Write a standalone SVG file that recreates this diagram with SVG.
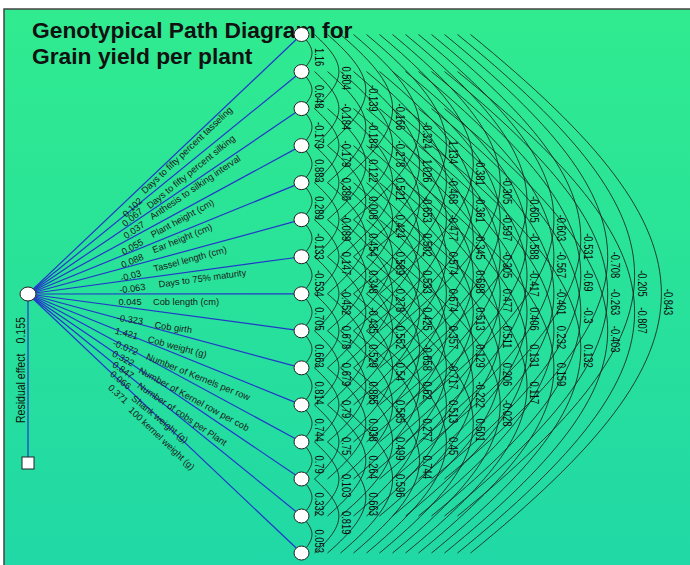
<svg xmlns="http://www.w3.org/2000/svg" width="690" height="565" viewBox="0 0 690 565">
<defs>
<linearGradient id="bg" x1="0" y1="0" x2="0" y2="1"><stop offset="0" stop-color="#30eb8f"/><stop offset="1" stop-color="#20d8a6"/></linearGradient>
<path id="a1" d="M301.5,0 C315.5,14.82 315.5,22.22 301.5,37.04"/>
<path id="a2" d="M314.5,0 C347.03,29.63 347.03,44.45 314.5,74.08"/>
<path id="a3" d="M327.5,0 C378.57,44.45 378.57,66.67 327.5,111.12"/>
<path id="a4" d="M340.5,0 C409.97,59.26 409.97,88.9 340.5,148.16"/>
<path id="a5" d="M353.5,0 C441.5,74.08 441.5,111.12 353.5,185.2"/>
<path id="a6" d="M366.5,0 C473.03,88.9 473.03,133.34 366.5,222.24"/>
<path id="a7" d="M379.5,0 C504.57,103.71 504.57,155.57 379.5,259.28"/>
<path id="a8" d="M392.5,0 C536.1,118.53 536.1,177.79 392.5,296.32"/>
<path id="a9" d="M405.5,0 C567.5,133.34 567.5,200.02 405.5,333.36"/>
<path id="a10" d="M418.5,0 C599.03,148.16 599.03,222.24 418.5,370.4"/>
<path id="a11" d="M431.5,0 C630.57,162.98 630.57,244.46 431.5,407.44"/>
<path id="a12" d="M444.5,0 C662.1,177.79 662.1,266.69 444.5,444.48"/>
<path id="a13" d="M457.5,0 C693.63,192.61 693.63,288.91 457.5,481.52"/>
<path id="a14" d="M470.5,0 C725.03,207.42 725.03,311.14 470.5,518.56"/>
</defs>
<style>
.arc{fill:none;stroke:#151515;stroke-width:0.8}
.pth line{stroke:#2338c8;stroke-width:1.2}
.node{fill:#fff;stroke:#222;stroke-width:1}
.cv text{font-family:"Liberation Sans",Arial,sans-serif;font-size:12px;fill:#0d0d0d}
.pl text{font-family:"Liberation Sans",Arial,sans-serif;font-size:9.3px;fill:#1a1a1a;text-anchor:middle}
.title{font-family:"Liberation Sans",Arial,sans-serif;font-size:22.8px;font-weight:bold;fill:#111}
.res{font-family:"Liberation Sans",Arial,sans-serif;font-size:13.5px;fill:#111}
</style>
<rect x="0" y="0" width="690" height="565" fill="#fff"/>
<rect x="4" y="9" width="700" height="570" fill="url(#bg)" stroke="#444" stroke-width="1.5"/>
<text class="title" x="32" y="37.5">Genotypical Path Diagram for</text>
<text class="title" x="32" y="63.5">Grain yield per plant</text>

<g id="connectors">
<g class="pth">
<line x1="28" y1="294" x2="301.5" y2="34.5"/>
<line x1="28" y1="294" x2="301.5" y2="71.54"/>
<line x1="28" y1="294" x2="301.5" y2="108.58"/>
<line x1="28" y1="294" x2="301.5" y2="145.62"/>
<line x1="28" y1="294" x2="301.5" y2="182.66"/>
<line x1="28" y1="294" x2="301.5" y2="219.7"/>
<line x1="28" y1="294" x2="301.5" y2="256.74"/>
<line x1="28" y1="294" x2="301.5" y2="293.78"/>
<line x1="28" y1="294" x2="301.5" y2="330.82"/>
<line x1="28" y1="294" x2="301.5" y2="367.86"/>
<line x1="28" y1="294" x2="301.5" y2="404.9"/>
<line x1="28" y1="294" x2="301.5" y2="441.94"/>
<line x1="28" y1="294" x2="301.5" y2="478.98"/>
<line x1="28" y1="294" x2="301.5" y2="516.02"/>
<line x1="28" y1="294" x2="301.5" y2="553.06"/>
<line x1="28" y1="294" x2="28" y2="457"/>
</g>
<g class="arc">
<use href="#a1" y="34.5"/><use href="#a1" y="71.54"/><use href="#a1" y="108.58"/><use href="#a1" y="145.62"/><use href="#a1" y="182.66"/><use href="#a1" y="219.7"/><use href="#a1" y="256.74"/><use href="#a1" y="293.78"/><use href="#a1" y="330.82"/><use href="#a1" y="367.86"/><use href="#a1" y="404.9"/><use href="#a1" y="441.94"/><use href="#a1" y="478.98"/><use href="#a1" y="516.02"/>
<use href="#a2" y="34.5"/><use href="#a2" y="71.54"/><use href="#a2" y="108.58"/><use href="#a2" y="145.62"/><use href="#a2" y="182.66"/><use href="#a2" y="219.7"/><use href="#a2" y="256.74"/><use href="#a2" y="293.78"/><use href="#a2" y="330.82"/><use href="#a2" y="367.86"/><use href="#a2" y="404.9"/><use href="#a2" y="441.94"/><use href="#a2" y="478.98"/>
<use href="#a3" y="34.5"/><use href="#a3" y="71.54"/><use href="#a3" y="108.58"/><use href="#a3" y="145.62"/><use href="#a3" y="182.66"/><use href="#a3" y="219.7"/><use href="#a3" y="256.74"/><use href="#a3" y="293.78"/><use href="#a3" y="330.82"/><use href="#a3" y="367.86"/><use href="#a3" y="404.9"/><use href="#a3" y="441.94"/>
<use href="#a4" y="34.5"/><use href="#a4" y="71.54"/><use href="#a4" y="108.58"/><use href="#a4" y="145.62"/><use href="#a4" y="182.66"/><use href="#a4" y="219.7"/><use href="#a4" y="256.74"/><use href="#a4" y="293.78"/><use href="#a4" y="330.82"/><use href="#a4" y="367.86"/><use href="#a4" y="404.9"/>
<use href="#a5" y="34.5"/><use href="#a5" y="71.54"/><use href="#a5" y="108.58"/><use href="#a5" y="145.62"/><use href="#a5" y="182.66"/><use href="#a5" y="219.7"/><use href="#a5" y="256.74"/><use href="#a5" y="293.78"/><use href="#a5" y="330.82"/><use href="#a5" y="367.86"/>
<use href="#a6" y="34.5"/><use href="#a6" y="71.54"/><use href="#a6" y="108.58"/><use href="#a6" y="145.62"/><use href="#a6" y="182.66"/><use href="#a6" y="219.7"/><use href="#a6" y="256.74"/><use href="#a6" y="293.78"/><use href="#a6" y="330.82"/>
<use href="#a7" y="34.5"/><use href="#a7" y="71.54"/><use href="#a7" y="108.58"/><use href="#a7" y="145.62"/><use href="#a7" y="182.66"/><use href="#a7" y="219.7"/><use href="#a7" y="256.74"/><use href="#a7" y="293.78"/>
<use href="#a8" y="34.5"/><use href="#a8" y="71.54"/><use href="#a8" y="108.58"/><use href="#a8" y="145.62"/><use href="#a8" y="182.66"/><use href="#a8" y="219.7"/><use href="#a8" y="256.74"/>
<use href="#a9" y="34.5"/><use href="#a9" y="71.54"/><use href="#a9" y="108.58"/><use href="#a9" y="145.62"/><use href="#a9" y="182.66"/><use href="#a9" y="219.7"/>
<use href="#a10" y="34.5"/><use href="#a10" y="71.54"/><use href="#a10" y="108.58"/><use href="#a10" y="145.62"/><use href="#a10" y="182.66"/>
<use href="#a11" y="34.5"/><use href="#a11" y="71.54"/><use href="#a11" y="108.58"/><use href="#a11" y="145.62"/>
<use href="#a12" y="34.5"/><use href="#a12" y="71.54"/><use href="#a12" y="108.58"/>
<use href="#a13" y="34.5"/><use href="#a13" y="71.54"/>
<use href="#a14" y="34.5"/>
</g>
</g>

<g id="path-labels" class="pl">
<text transform="translate(132.3,207.3) rotate(-43.5)" y="3.3">0.102</text>
<text transform="translate(186.7,150) rotate(-43.5)" y="3.3">Days to fifty percent tasseling</text>
<text transform="translate(132.3,217.3) rotate(-39.1)" y="3.3">0.067</text>
<text transform="translate(190.7,171.7) rotate(-39.1)" y="3.3">Days to fifty percent silking</text>
<text transform="translate(134,230) rotate(-34.1)" y="3.3">0.037</text>
<text transform="translate(195,187.3) rotate(-34.1)" y="3.3">Anthesis to silking interval</text>
<text transform="translate(132.3,246.7) rotate(-28.5)" y="3.3">0.055</text>
<text transform="translate(182.3,218.3) rotate(-28.5)" y="3.3">Plant height (cm)</text>
<text transform="translate(132.3,260.7) rotate(-22.15)" y="3.3">0.088</text>
<text transform="translate(182.3,238.3) rotate(-22.15)" y="3.3">Ear height (cm)</text>
<text transform="translate(130.7,275.7) rotate(-15.2)" y="3.3">-0.03</text>
<text transform="translate(190,259) rotate(-15.2)" y="3.3">Tassel length (cm)</text>
<text transform="translate(132.3,288.3) rotate(-7.76)" y="3.3">-0.063</text>
<text transform="translate(202.3,278.3) rotate(-7.76)" y="3.3">Days to 75% maturity</text>
<text transform="translate(130,302)" y="3.3">0.045</text>
<text transform="translate(186,302)" y="3.3">Cob length (cm)</text>
<text transform="translate(130,319.3) rotate(7.67)" y="3.3">-0.323</text>
<text transform="translate(173.3,327.3) rotate(7.67)" y="3.3">Cob girth</text>
<text transform="translate(126.7,333.3) rotate(15.11)" y="3.3">1.421</text>
<text transform="translate(177.3,346.7) rotate(15.11)" y="3.3">Cob weight (g)</text>
<text transform="translate(125.7,347.3) rotate(22.07)" y="3.3">-0.072</text>
<text transform="translate(198.3,376.7) rotate(22.07)" y="3.3">Number of Kernels per row</text>
<text transform="translate(123.3,358.3) rotate(28.41)" y="3.3">0.322</text>
<text transform="translate(194,399) rotate(28.41)" y="3.3">Number of Kernel row per cob</text>
<text transform="translate(123.3,370) rotate(34.07)" y="3.3">0.847</text>
<text transform="translate(182.3,414) rotate(34.07)" y="3.3">Number of cobs per Plant</text>
<text transform="translate(120.7,380) rotate(39.07)" y="3.3">0.066</text>
<text transform="translate(160,419) rotate(39.07)" y="3.3">Shank weight (g)</text>
<text transform="translate(118.3,394) rotate(43.45)" y="3.3">0.371</text>
<text transform="translate(161.7,438.3) rotate(43.45)" y="3.3">100 kernel weight (g)</text>
</g>

<g id="corr-labels" class="cv">
<text transform="translate(315,48.02) rotate(90) scale(.78,1)">1.16</text>
<text transform="translate(315,85.06) rotate(90) scale(.78,1)">0.648</text>
<text transform="translate(315,122.1) rotate(90) scale(.78,1)">-0.179</text>
<text transform="translate(315,159.14) rotate(90) scale(.78,1)">0.883</text>
<text transform="translate(315,196.18) rotate(90) scale(.78,1)">0.289</text>
<text transform="translate(315,233.22) rotate(90) scale(.78,1)">-0.133</text>
<text transform="translate(315,270.26) rotate(90) scale(.78,1)">-0.534</text>
<text transform="translate(315,307.3) rotate(90) scale(.78,1)">0.705</text>
<text transform="translate(315,344.34) rotate(90) scale(.78,1)">0.663</text>
<text transform="translate(315,381.38) rotate(90) scale(.78,1)">0.814</text>
<text transform="translate(315,418.42) rotate(90) scale(.78,1)">0.744</text>
<text transform="translate(315,455.46) rotate(90) scale(.78,1)">0.79</text>
<text transform="translate(315,492.5) rotate(90) scale(.78,1)">0.332</text>
<text transform="translate(315,529.54) rotate(90) scale(.78,1)">0.053</text>

<text transform="translate(341.9,66.54) rotate(90) scale(.78,1)">0.504</text>
<text transform="translate(341.9,103.58) rotate(90) scale(.78,1)">-0.184</text>
<text transform="translate(341.9,140.62) rotate(90) scale(.78,1)">-0.179</text>
<text transform="translate(341.9,177.66) rotate(90) scale(.78,1)">0.386</text>
<text transform="translate(341.9,214.7) rotate(90) scale(.78,1)">-0.089</text>
<text transform="translate(341.9,251.74) rotate(90) scale(.78,1)">0.147</text>
<text transform="translate(341.9,288.78) rotate(90) scale(.78,1)">-0.452</text>
<text transform="translate(341.9,325.82) rotate(90) scale(.78,1)">0.678</text>
<text transform="translate(341.9,362.86) rotate(90) scale(.78,1)">0.679</text>
<text transform="translate(341.9,399.9) rotate(90) scale(.78,1)">0.79</text>
<text transform="translate(341.9,436.94) rotate(90) scale(.78,1)">0.75</text>
<text transform="translate(341.9,473.98) rotate(90) scale(.78,1)">0.103</text>
<text transform="translate(341.9,511.02) rotate(90) scale(.78,1)">0.819</text>

<text transform="translate(368.8,85.06) rotate(90) scale(.78,1)">-0.139</text>
<text transform="translate(368.8,122.1) rotate(90) scale(.78,1)">-0.184</text>
<text transform="translate(368.8,159.14) rotate(90) scale(.78,1)">0.122</text>
<text transform="translate(368.8,196.18) rotate(90) scale(.78,1)">0.008</text>
<text transform="translate(368.8,233.22) rotate(90) scale(.78,1)">0.454</text>
<text transform="translate(368.8,270.26) rotate(90) scale(.78,1)">0.348</text>
<text transform="translate(368.8,307.3) rotate(90) scale(.78,1)">-0.435</text>
<text transform="translate(368.8,344.34) rotate(90) scale(.78,1)">0.529</text>
<text transform="translate(368.8,381.38) rotate(90) scale(.78,1)">0.865</text>
<text transform="translate(368.8,418.42) rotate(90) scale(.78,1)">0.938</text>
<text transform="translate(368.8,455.46) rotate(90) scale(.78,1)">0.264</text>
<text transform="translate(368.8,492.5) rotate(90) scale(.78,1)">0.663</text>

<text transform="translate(395.6,103.58) rotate(90) scale(.78,1)">-0.166</text>
<text transform="translate(395.6,140.62) rotate(90) scale(.78,1)">-0.278</text>
<text transform="translate(395.6,177.66) rotate(90) scale(.78,1)">0.521</text>
<text transform="translate(395.6,214.7) rotate(90) scale(.78,1)">0.424</text>
<text transform="translate(395.6,251.74) rotate(90) scale(.78,1)">0.589</text>
<text transform="translate(395.6,288.78) rotate(90) scale(.78,1)">0.278</text>
<text transform="translate(395.6,325.82) rotate(90) scale(.78,1)">0.552</text>
<text transform="translate(395.6,362.86) rotate(90) scale(.78,1)">0.54</text>
<text transform="translate(395.6,399.9) rotate(90) scale(.78,1)">0.585</text>
<text transform="translate(395.6,436.94) rotate(90) scale(.78,1)">0.499</text>
<text transform="translate(395.6,473.98) rotate(90) scale(.78,1)">0.596</text>

<text transform="translate(422.5,122.1) rotate(90) scale(.78,1)">-0.324</text>
<text transform="translate(422.5,159.14) rotate(90) scale(.78,1)">1.026</text>
<text transform="translate(422.5,196.18) rotate(90) scale(.78,1)">-0.653</text>
<text transform="translate(422.5,233.22) rotate(90) scale(.78,1)">0.502</text>
<text transform="translate(422.5,270.26) rotate(90) scale(.78,1)">0.533</text>
<text transform="translate(422.5,307.3) rotate(90) scale(.78,1)">0.425</text>
<text transform="translate(422.5,344.34) rotate(90) scale(.78,1)">-0.658</text>
<text transform="translate(422.5,381.38) rotate(90) scale(.78,1)">0.62</text>
<text transform="translate(422.5,418.42) rotate(90) scale(.78,1)">0.277</text>
<text transform="translate(422.5,455.46) rotate(90) scale(.78,1)">0.744</text>

<text transform="translate(449.4,140.62) rotate(90) scale(.78,1)">1.134</text>
<text transform="translate(449.4,177.66) rotate(90) scale(.78,1)">-0.468</text>
<text transform="translate(449.4,214.7) rotate(90) scale(.78,1)">-0.477</text>
<text transform="translate(449.4,251.74) rotate(90) scale(.78,1)">0.574</text>
<text transform="translate(449.4,288.78) rotate(90) scale(.78,1)">0.674</text>
<text transform="translate(449.4,325.82) rotate(90) scale(.78,1)">0.357</text>
<text transform="translate(449.4,362.86) rotate(90) scale(.78,1)">-0.717</text>
<text transform="translate(449.4,399.9) rotate(90) scale(.78,1)">0.513</text>
<text transform="translate(449.4,436.94) rotate(90) scale(.78,1)">0.45</text>

<text transform="translate(476.3,159.14) rotate(90) scale(.78,1)">-0.381</text>
<text transform="translate(476.3,196.18) rotate(90) scale(.78,1)">-0.361</text>
<text transform="translate(476.3,233.22) rotate(90) scale(.78,1)">-0.345</text>
<text transform="translate(476.3,270.26) rotate(90) scale(.78,1)">0.688</text>
<text transform="translate(476.3,307.3) rotate(90) scale(.78,1)">0.513</text>
<text transform="translate(476.3,344.34) rotate(90) scale(.78,1)">0.129</text>
<text transform="translate(476.3,381.38) rotate(90) scale(.78,1)">-0.222</text>
<text transform="translate(476.3,418.42) rotate(90) scale(.78,1)">0.501</text>

<text transform="translate(503.2,177.66) rotate(90) scale(.78,1)">-0.305</text>
<text transform="translate(503.2,214.7) rotate(90) scale(.78,1)">-0.597</text>
<text transform="translate(503.2,251.74) rotate(90) scale(.78,1)">-0.305</text>
<text transform="translate(503.2,288.78) rotate(90) scale(.78,1)">0.477</text>
<text transform="translate(503.2,325.82) rotate(90) scale(.78,1)">0.511</text>
<text transform="translate(503.2,362.86) rotate(90) scale(.78,1)">0.206</text>
<text transform="translate(503.2,399.9) rotate(90) scale(.78,1)">-0.028</text>

<text transform="translate(530,196.18) rotate(90) scale(.78,1)">-0.605</text>
<text transform="translate(530,233.22) rotate(90) scale(.78,1)">-0.588</text>
<text transform="translate(530,270.26) rotate(90) scale(.78,1)">-0.417</text>
<text transform="translate(530,307.3) rotate(90) scale(.78,1)">0.406</text>
<text transform="translate(530,344.34) rotate(90) scale(.78,1)">0.131</text>
<text transform="translate(530,381.38) rotate(90) scale(.78,1)">0.117</text>

<text transform="translate(556.9,214.7) rotate(90) scale(.78,1)">-0.603</text>
<text transform="translate(556.9,251.74) rotate(90) scale(.78,1)">-0.567</text>
<text transform="translate(556.9,288.78) rotate(90) scale(.78,1)">-0.401</text>
<text transform="translate(556.9,325.82) rotate(90) scale(.78,1)">0.232</text>
<text transform="translate(556.9,362.86) rotate(90) scale(.78,1)">0.159</text>

<text transform="translate(583.8,233.22) rotate(90) scale(.78,1)">-0.531</text>
<text transform="translate(583.8,270.26) rotate(90) scale(.78,1)">-0.69</text>
<text transform="translate(583.8,307.3) rotate(90) scale(.78,1)">-0.3</text>
<text transform="translate(583.8,344.34) rotate(90) scale(.78,1)">0.132</text>

<text transform="translate(610.7,251.74) rotate(90) scale(.78,1)">-0.708</text>
<text transform="translate(610.7,288.78) rotate(90) scale(.78,1)">-0.263</text>
<text transform="translate(610.7,325.82) rotate(90) scale(.78,1)">-0.403</text>

<text transform="translate(637.6,270.26) rotate(90) scale(.78,1)">-0.205</text>
<text transform="translate(637.6,307.3) rotate(90) scale(.78,1)">-0.807</text>

<text transform="translate(664.4,288.78) rotate(90) scale(.78,1)">-0.843</text>
</g>

<text class="res" transform="translate(24.5,423) rotate(-90) scale(.78,1)">Residual effect<tspan dx="13">0.155</tspan></text>

<g id="nodes">
<g id="root"><ellipse class="node" cx="28" cy="294" rx="8" ry="7"/></g>
<g id="residual"><rect class="node" x="22" y="457" width="12" height="12"/></g>
<g id="n1"><ellipse class="node" cx="301.5" cy="34.5" rx="7.5" ry="7"/></g>
<g id="n2"><ellipse class="node" cx="301.5" cy="71.54" rx="7.5" ry="7"/></g>
<g id="n3"><ellipse class="node" cx="301.5" cy="108.58" rx="7.5" ry="7"/></g>
<g id="n4"><ellipse class="node" cx="301.5" cy="145.62" rx="7.5" ry="7"/></g>
<g id="n5"><ellipse class="node" cx="301.5" cy="182.66" rx="7.5" ry="7"/></g>
<g id="n6"><ellipse class="node" cx="301.5" cy="219.7" rx="7.5" ry="7"/></g>
<g id="n7"><ellipse class="node" cx="301.5" cy="256.74" rx="7.5" ry="7"/></g>
<g id="n8"><ellipse class="node" cx="301.5" cy="293.78" rx="7.5" ry="7"/></g>
<g id="n9"><ellipse class="node" cx="301.5" cy="330.82" rx="7.5" ry="7"/></g>
<g id="n10"><ellipse class="node" cx="301.5" cy="367.86" rx="7.5" ry="7"/></g>
<g id="n11"><ellipse class="node" cx="301.5" cy="404.9" rx="7.5" ry="7"/></g>
<g id="n12"><ellipse class="node" cx="301.5" cy="441.94" rx="7.5" ry="7"/></g>
<g id="n13"><ellipse class="node" cx="301.5" cy="478.98" rx="7.5" ry="7"/></g>
<g id="n14"><ellipse class="node" cx="301.5" cy="516.02" rx="7.5" ry="7"/></g>
<g id="n15"><ellipse class="node" cx="301.5" cy="553.06" rx="7.5" ry="7"/></g>
</g>
</svg>
